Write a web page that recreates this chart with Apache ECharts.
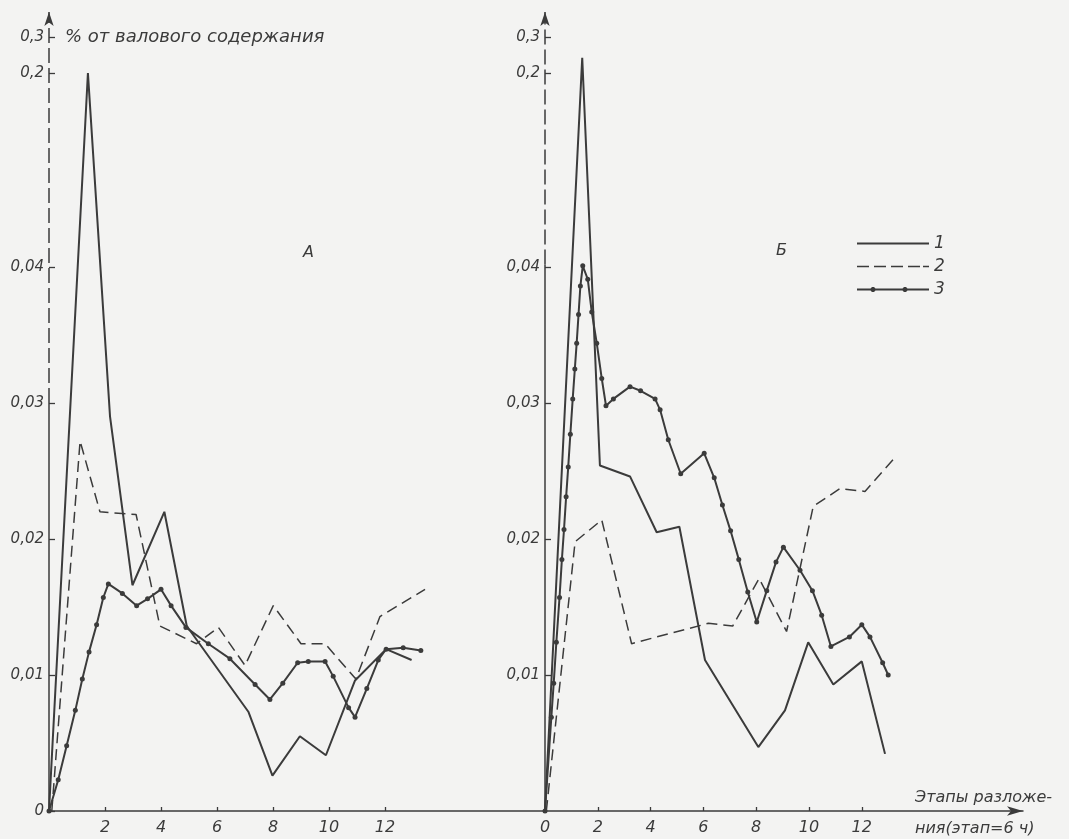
<!DOCTYPE html>
<html>
<head>
<meta charset="utf-8">
<script src="https://cdn.jsdelivr.net/npm/echarts@6/dist/echarts.min.js"></script>
<style>
html,body{margin:0;padding:0;background:#f3f3f2;}
#chart{width:1069px;height:839px;}
</style>
</head>
<body>
<div id="chart"></div>
<script>
// ---- data (x = этап разложения, y = % от валового содержания) ----
const seriesNames = ['1', '2', '3'];
const yTickValues = [0, 0.01, 0.02, 0.03, 0.04, 0.2, 0.3];
const xTicksA = [2, 4, 6, 8, 10, 12];
const xTicksB = [0, 2, 4, 6, 8, 10, 12];

// Panel А
const A1 = [[0,0],[1.39,0.2],[2.18,0.029],[2.98,0.0166],[4.12,0.022],[4.92,0.0136],[7.12,0.0073],[7.98,0.0026],[8.96,0.0055],[9.89,0.0041],[10.93,0.0096],[12.04,0.0119],[12.95,0.0111]];
const A2 = [[0.1,0],[1.11,0.0272],[1.82,0.022],[3.11,0.0218],[3.96,0.0136],[5.27,0.0123],[6.05,0.0135],[7.0,0.0107],[8.01,0.0151],[9.0,0.0123],[9.86,0.0123],[10.96,0.0097],[11.82,0.0143],[13.43,0.0163]];
const A3 = [[0,0],[0.33,0.0023],[0.63,0.0048],[0.94,0.0074],[1.19,0.0097],[1.43,0.0117],[1.7,0.0137],[1.94,0.0157],[2.12,0.0167],[2.62,0.016],[3.13,0.0151],[3.52,0.0156],[4.0,0.0163],[4.36,0.0151],[4.89,0.0135],[5.69,0.0123],[6.46,0.0112],[7.36,0.0093],[7.89,0.0082],[8.35,0.0094],[8.88,0.0109],[9.26,0.011],[9.86,0.011],[10.15,0.0099],[10.7,0.0076],[10.93,0.0069],[11.35,0.009],[11.76,0.0111],[12.04,0.0119],[12.65,0.012],[13.28,0.0118]];

// Panel Б
const B1 = [[0,0],[1.41,0.24],[2.08,0.0254],[3.22,0.0246],[4.23,0.0205],[5.09,0.0209],[6.06,0.0111],[8.08,0.0047],[9.09,0.0074],[9.97,0.0124],[10.92,0.0093],[12.0,0.011],[12.88,0.0042]];
const B2 = [[0.05,0],[1.14,0.0198],[2.15,0.0214],[3.28,0.0123],[4.04,0.0127],[6.19,0.0138],[7.11,0.0136],[8.11,0.0171],[9.15,0.0132],[10.16,0.0224],[11.17,0.0237],[12.12,0.0235],[13.26,0.026]];
const B3 = [[0,0],[0.24,0.0069],[0.33,0.0094],[0.43,0.0124],[0.55,0.0157],[0.64,0.0185],[0.72,0.0207],[0.8,0.0231],[0.88,0.0253],[0.96,0.0277],[1.05,0.0303],[1.13,0.0325],[1.2,0.0344],[1.27,0.0365],[1.34,0.0386],[1.43,0.041],[1.62,0.0391],[1.77,0.0367],[1.96,0.0344],[2.15,0.0318],[2.31,0.0298],[2.59,0.0303],[3.22,0.0312],[3.62,0.0309],[4.17,0.0303],[4.36,0.0295],[4.67,0.0273],[5.14,0.0248],[6.03,0.0263],[6.41,0.0245],[6.72,0.0225],[7.03,0.0206],[7.34,0.0185],[7.68,0.0161],[8.02,0.0139],[8.4,0.0162],[8.75,0.0183],[9.03,0.0194],[9.66,0.0177],[10.13,0.0162],[10.48,0.0144],[10.83,0.0121],[11.53,0.0128],[12.0,0.0137],[12.31,0.0128],[12.79,0.0109],[13.0,0.01]];

// ---- styling ----
const INK = '#3b3b3b';
const FONT = "'DejaVu Sans', 'Liberation Sans', sans-serif";
const Y_MAX = 0.30182;
const fmt = v => (v === 0 ? '0' : String(+v.toFixed(3)).replace('.', ','));

function yAxisFor(gridIndex, showZero) {
  const vals = showZero ? yTickValues : yTickValues.slice(1);
  return {
    type: 'value', gridIndex, min: 0, max: Y_MAX,
    breaks: [
      { start: 0.04, end: 0.2, gap: 0.01426 },
      { start: 0.2001, end: 0.3, gap: 0.00257 }
    ],
    breakArea: { show: false },
    axisLine: { show: false },
    axisTick: { show: true, inside: true, length: 6, lineStyle: { color: INK, width: 1.3 }, customValues: vals },
    axisLabel: { customValues: vals, formatter: fmt, color: INK, fontStyle: 'italic', fontSize: 15, fontFamily: FONT, margin: 5 },
    splitLine: { show: false }
  };
}

function xAxisFor(gridIndex, max, ticks, arrow) {
  return {
    type: 'value', gridIndex, min: 0, max,
    axisLine: { show: true, onZero: false, symbol: arrow ? ['none', 'arrow'] : 'none', symbolSize: [7, 16],
      lineStyle: { color: INK, width: 1.5 } },
    axisTick: { show: true, inside: true, length: 4, customValues: ticks, lineStyle: { color: INK, width: 1.3 } },
    axisLabel: { customValues: ticks, color: INK, fontStyle: 'italic', fontSize: 16, fontFamily: FONT, margin: 9 },
    splitLine: { show: false }
  };
}

// y-axis line: solid near zero, dashed across the broken part, arrow on top
const axisLineMarks = (solidTop) => ({
  silent: true, animation: false, symbol: 'none',
  label: { show: false },
  emphasis: { disabled: true },
  data: [
    [{ coord: [0, 0], symbol: 'none', lineStyle: { type: 'solid', color: INK, width: 1.5 } },
     { coord: [0, solidTop], symbol: 'none' }],
    [{ coord: [0, solidTop], symbol: 'none', lineStyle: { type: [15, 5], color: INK, width: 1.5 } },
     { coord: [0, Y_MAX], symbol: 'arrow', symbolSize: [7, 14] }]
  ]
});

function panelSeries(idx, d1, d2, d3, solidTop) {
  return [
    { name: seriesNames[0], type: 'line', xAxisIndex: idx, yAxisIndex: idx, data: d1,
      showSymbol: false, symbol: 'none', lineStyle: { color: INK, width: 2 }, itemStyle: { color: INK },
      markLine: axisLineMarks(solidTop), animation: false },
    { name: seriesNames[1], type: 'line', xAxisIndex: idx, yAxisIndex: idx, data: d2,
      showSymbol: false, symbol: 'none', lineStyle: { color: INK, width: 1.5, type: [11, 6] }, itemStyle: { color: INK },
      animation: false },
    { name: seriesNames[2], type: 'line', xAxisIndex: idx, yAxisIndex: idx, data: d3,
      symbol: 'circle', symbolSize: 5, showSymbol: true, lineStyle: { color: INK, width: 2 }, itemStyle: { color: INK },
      animation: false }
  ];
}

const ICON_SOLID = 'path://M0,3h72v2h-72z';
const ICON_DASH = 'path://M0,3h12v1.6h-12zM17,3h12v1.6h-12zM34,3h12v1.6h-12zM51,3h12v1.6h-12zM66,3h6v1.6h-6z';
const ICON_DOT = 'path://M0,3.2h72v1.8h-72zM15,1.6h2l1.5,1.5v2l-1.5,1.5h-2l-1.5,-1.5v-2zM47,1.6h2l1.5,1.5v2l-1.5,1.5h-2l-1.5,-1.5v-2z';

const chart = echarts.init(document.getElementById('chart'), null, { renderer: 'canvas' });
chart.setOption({
  backgroundColor: '#f3f3f2',
  animation: false,
  grid: [
    { left: 49, top: 12, width: 496, height: 799 },
    { left: 545, top: 12, width: 478, height: 799 }
  ],
  xAxis: [xAxisFor(0, 496 / 28, xTicksA, false), xAxisFor(1, 478 / 26.4, xTicksB, true)],
  yAxis: [yAxisFor(0, true), yAxisFor(1, false)],
  title: [
    { text: '% от валового содержания', left: 60, top: 23,
      textStyle: { color: INK, fontStyle: 'italic', fontWeight: 'normal', fontSize: 18, fontFamily: FONT } },
    { text: 'А', left: 298, top: 240,
      textStyle: { color: INK, fontStyle: 'italic', fontWeight: 'normal', fontSize: 16, fontFamily: FONT } },
    { text: 'Б', left: 771, top: 238,
      textStyle: { color: INK, fontStyle: 'italic', fontWeight: 'normal', fontSize: 16, fontFamily: FONT } },
    { text: 'Этапы разложе-\nния(этап=6 ч)', left: 910, top: 777,
      textStyle: { color: INK, fontStyle: 'italic', fontWeight: 'normal', fontSize: 16, fontFamily: FONT, lineHeight: 31 } }
  ],
  legend: {
    data: [
      { name: seriesNames[0], icon: ICON_SOLID },
      { name: seriesNames[1], icon: ICON_DASH },
      { name: seriesNames[2], icon: ICON_DOT }
    ],
    orient: 'vertical', left: 852, top: 230,
    itemWidth: 72, itemHeight: 14, itemGap: 6,
    selectedMode: false,
    textStyle: { color: INK, fontStyle: 'italic', fontSize: 17, fontFamily: FONT }
  },
  series: [
    ...panelSeries(0, A1, A2, A3, 0.03),
    ...panelSeries(1, B1, B2, B3, 0.042)
  ]
});
</script>
</body>
</html>
